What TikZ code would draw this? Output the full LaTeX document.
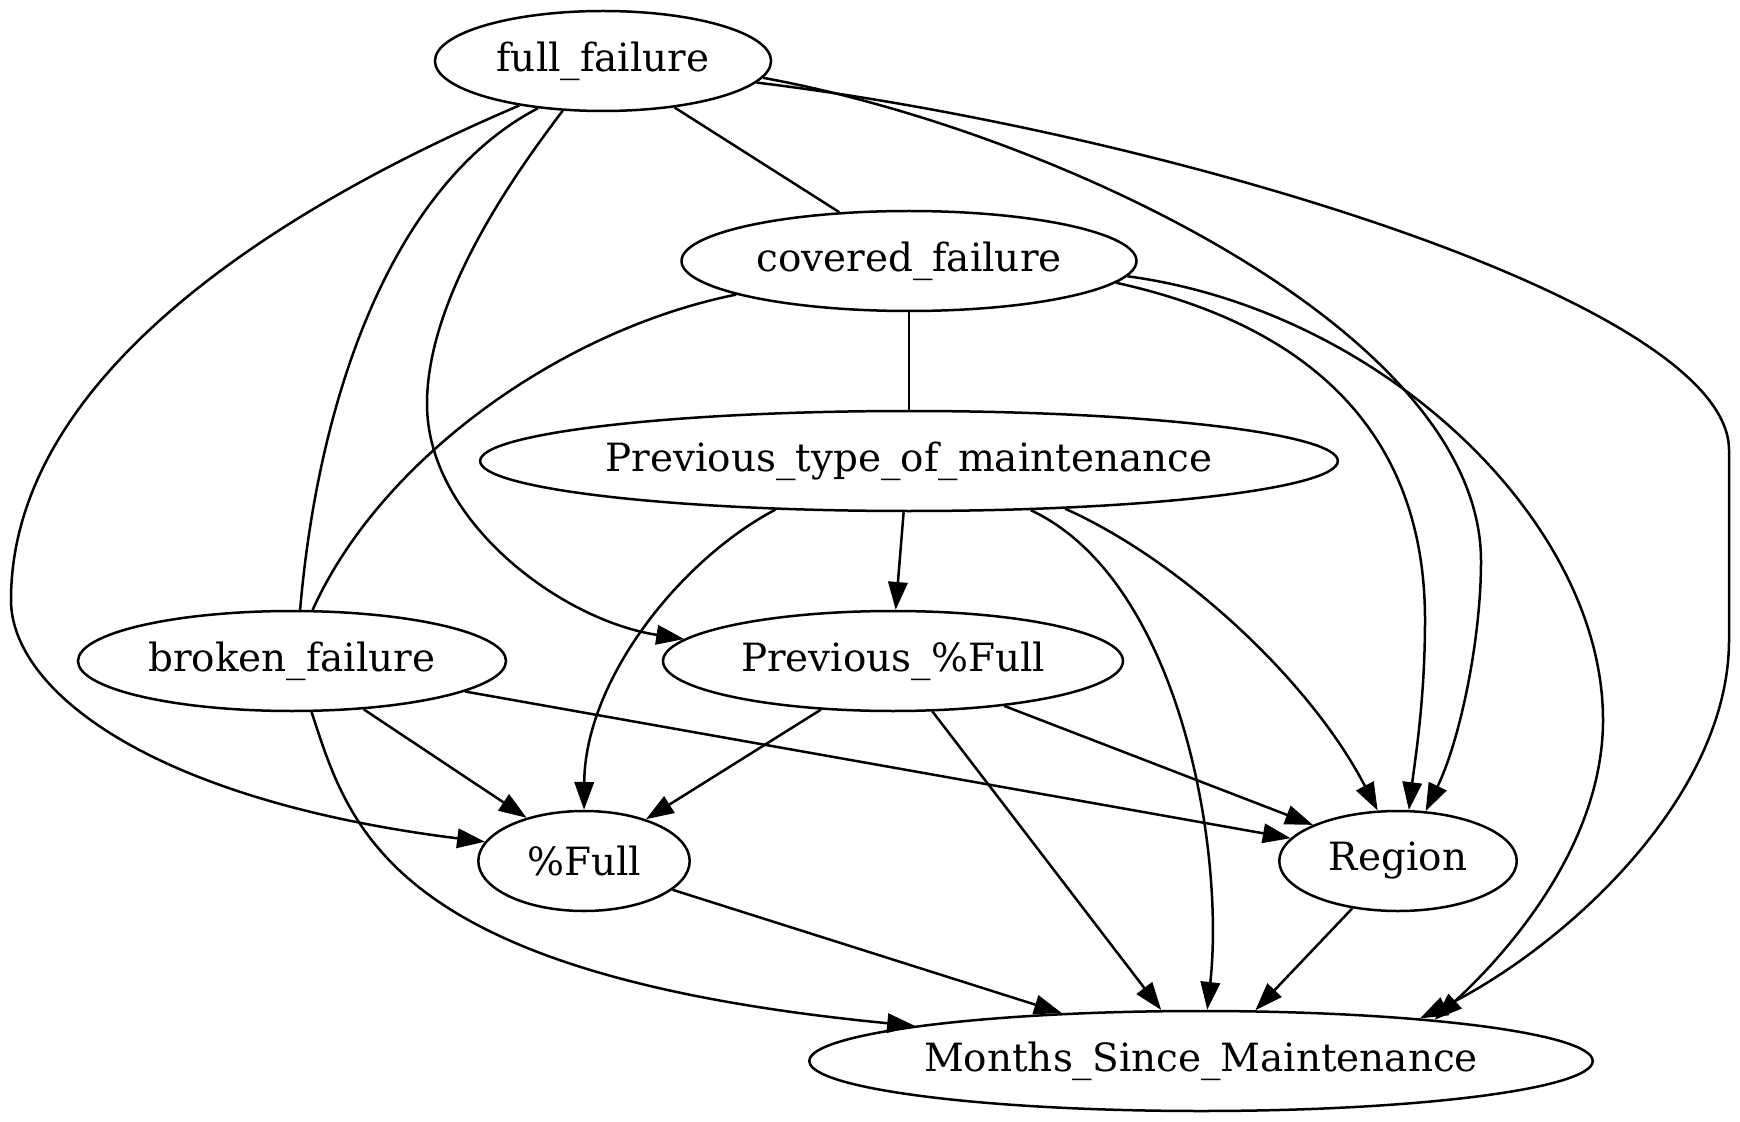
\documentclass[tikz,border=0pt]{standalone}
\usepackage{fontspec}
\setmainfont{DejaVu Serif}
\usetikzlibrary{shapes.geometric,arrows.meta}
\begin{document}
\begin{tikzpicture}[x=0.36pt,y=-0.36pt,
  nd/.style={draw, ellipse, line width=0.9pt, inner sep=0pt, minimum height=36pt,
             font=\fontsize{14}{16}\selectfont},
  und/.style={line width=0.9pt},
  dir/.style={line width=0.9pt, -{Triangle[length=10pt,width=7pt]}}]
\useasboundingbox[fill=white] (0,0) rectangle (1740,1122);

% nodes
\node[nd, minimum width=121pt] (ff) at (603,61) {full\_failure};
\node[nd, minimum width=163.8pt] (cf) at (909,261) {covered\_failure};
\node[nd, minimum width=306.7pt] (ptom) at (909,461) {Previous\_type\_of\_maintenance};
\node[nd, minimum width=154.1pt] (bf) at (292,661) {broken\_failure};
\node[nd, minimum width=165.6pt] (pf) at (893,661) {Previous\_\%Full};
\node[nd, minimum width=76.1pt] (full) at (584,861) {\%Full};
\node[nd, minimum width=85.5pt] (reg) at (1398,861) {Region};
\node[nd, minimum width=280.1pt] (msm) at (1201,1061) {Months\_Since\_Maintenance};

% undirected links
\draw[und] (ff.-33.3) -- (cf.145.9);
\draw[und] (cf.south) -- (ptom.north);
\draw[und] (ff.-144.7) .. controls (400,180) and (320,380) .. (bf.81.4);
\draw[und] (cf.-169.8) .. controls (560,330) and (380,460) .. (bf.68.6);

% from full_failure
\draw[dir] (ff.-152.4) .. controls (269,212) and (11,380) .. (11,600)
                       .. controls (11,690) and (150,800) .. (full.169.4);
\draw[dir] (ff.-129.2) .. controls (510,180) and (427,300) .. (427,404)
                       .. controls (427,520) and (560,620) .. (pf.174.2);
\draw[dir] (ff.-6.5) .. controls (1050,130) and (1481,330) .. (1481,561)
                     .. controls (1481,640) and (1460,740) .. (reg.61);
\draw[dir] (ff.-8) .. controls (1150,130) and (1729,300) .. (1729,450)
                   -- (1729,640)
                   .. controls (1729,800) and (1560,950) .. (msm.11);

% from covered_failure
\draw[dir] (cf.-6.3) .. controls (1330,330) and (1425,450) .. (1425,620)
                     .. controls (1425,700) and (1415,760) .. (reg.78.6);
\draw[dir] (cf.-4.9) .. controls (1380,310) and (1603,520) .. (1603,720)
                     .. controls (1603,850) and (1500,960) .. (msm.10.5);

% from Previous_type_of_maintenance
\draw[dir] (ptom.-96.7) -- (pf.87.7);
\draw[dir] (ptom.-160) .. controls (680,560) and (585,680) .. (full.90);
\draw[dir] (ptom.-22.9) .. controls (1180,580) and (1225,850) .. (msm.83);
\draw[dir] (ptom.-17.7) .. controls (1180,560) and (1310,680) .. (reg.112);

% from broken_failure
\draw[dir] (bf.-34.2) -- (full.143.5);
\draw[dir] (bf.-10.9) -- (reg.168.1);
\draw[dir] (bf.-69.5) .. controls (350,830) and (390,975) .. (msm.173);

% from Previous_%Full
\draw[dir] (pf.-146.4) -- (full.34.7);
\draw[dir] (pf.-22.8) -- (reg.157.1);
\draw[dir] (pf.-52.8) -- (msm.128.8);

% from %Full and Region
\draw[dir] (full.-18.9) -- (msm.161.9);
\draw[dir] (reg.-134) -- (msm.43.8);
\end{tikzpicture}
\end{document}
